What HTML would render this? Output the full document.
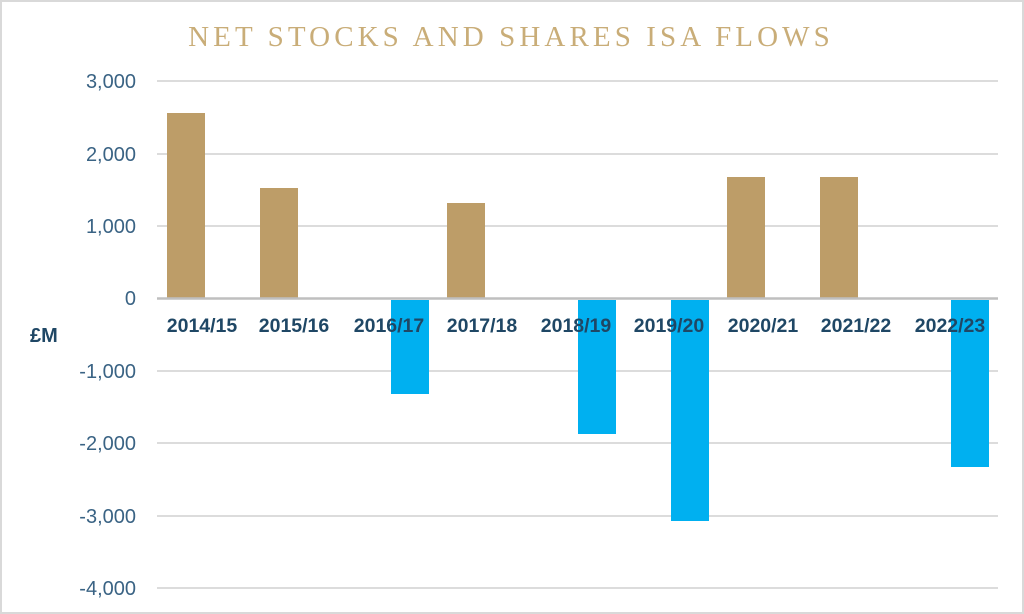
<!DOCTYPE html>
<html><head><meta charset="utf-8"><style>
html,body{margin:0;padding:0;background:#fff;}
svg{display:block;}
</style></head><body>
<svg width="1024" height="614" xmlns="http://www.w3.org/2000/svg">
<rect x="1" y="1" width="1022" height="612" fill="#fff" stroke="#d9d9d9" stroke-width="2"/>
<text x="511" y="46" text-anchor="middle" font-family="Liberation Serif, serif" font-size="29" letter-spacing="4.1" fill="#c9ad78">NET STOCKS AND SHARES ISA FLOWS</text>
<g stroke="#d0d0d0" stroke-width="1.5">
<line x1="157" y1="81" x2="998" y2="81"/>
<line x1="157" y1="154" x2="998" y2="154"/>
<line x1="157" y1="226" x2="998" y2="226"/>
<line x1="157" y1="371" x2="998" y2="371"/>
<line x1="157" y1="443" x2="998" y2="443"/>
<line x1="157" y1="516" x2="998" y2="516"/>
<line x1="157" y1="588" x2="998" y2="588"/>
</g>
<g font-family="Liberation Sans, sans-serif" font-size="20" fill="#3a6384" text-anchor="end">
<text x="136" y="88">3,000</text>
<text x="136" y="161">2,000</text>
<text x="136" y="233">1,000</text>
<text x="136" y="305">0</text>
<text x="136" y="378">-1,000</text>
<text x="136" y="450">-2,000</text>
<text x="136" y="523">-3,000</text>
<text x="136" y="595">-4,000</text>
</g>
<text x="30" y="342" font-family="Liberation Sans, sans-serif" font-size="20" font-weight="bold" fill="#1f4765">£M</text>
<g fill="#bd9d68">
<rect x="167" y="113" width="38" height="185"/>
<rect x="260" y="188" width="38" height="110"/>
<rect x="447" y="203" width="38" height="95"/>
<rect x="727" y="177" width="38" height="121"/>
<rect x="820" y="177" width="38" height="121"/>
</g>
<g fill="#00b0f0">
<rect x="391" y="300" width="38" height="94"/>
<rect x="578" y="300" width="38" height="134"/>
<rect x="671" y="300" width="38" height="221"/>
<rect x="951" y="300" width="38" height="167"/>
</g>
<line x1="157" y1="298.5" x2="998" y2="298.5" stroke="#bfbfbf" stroke-width="2.5"/>
<g font-family="Liberation Sans, sans-serif" font-size="19.5" font-weight="bold" fill="#1f4765" text-anchor="middle">
<text x="202" y="332">2014/15</text>
<text x="294" y="332">2015/16</text>
<text x="389" y="332">2016/17</text>
<text x="482" y="332">2017/18</text>
<text x="576" y="332">2018/19</text>
<text x="669" y="332">2019/20</text>
<text x="763" y="332">2020/21</text>
<text x="856" y="332">2021/22</text>
<text x="950" y="332">2022/23</text>
</g>
</svg>
</body></html>
